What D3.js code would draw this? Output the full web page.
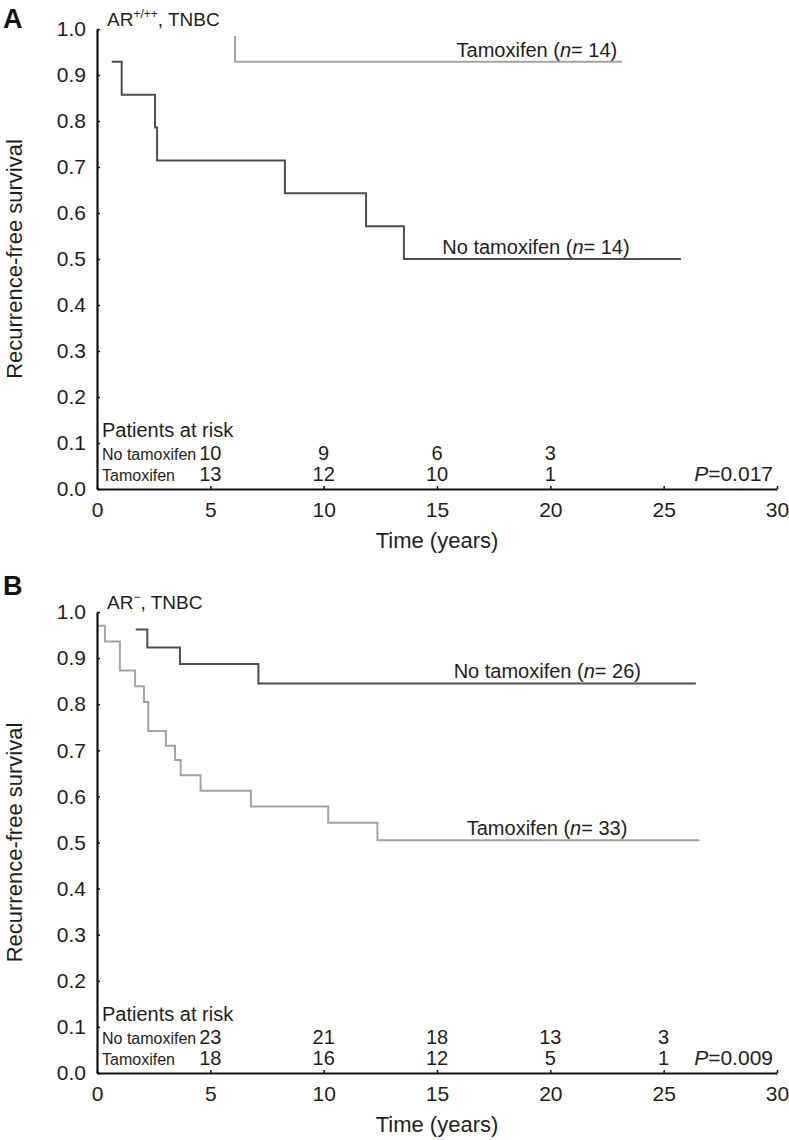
<!DOCTYPE html>
<html>
<head>
<meta charset="utf-8">
<script src="https://cdn.jsdelivr.net/npm/d3@7"></script>
<style>
  html, body { margin: 0; padding: 0; background: #fff; }
  svg { display: block; font-family: "Liberation Sans", Arial, Helvetica, sans-serif; }
</style>
</head>
<body>
<svg id="chart" width="789" height="1140"></svg>
<script>
// ---------------- DATA ----------------
// Panel A: AR+/++ TNBC  (step curves: time of change, survival after change; last point = end of follow-up)
const noTamA_time = [0.65, 1.09, 2.56, 2.65, 8.29, 11.87, 13.54, 25.76];
const noTamA_surv = [0.929, 0.857, 0.786, 0.714, 0.643, 0.571, 0.500, 0.500];
const tamA_time = [6.09, 6.09, 23.16];
const tamA_surv = [0.985, 0.929, 0.929];

// Panel B: AR- TNBC
const noTamB_time = [1.71, 2.22, 3.66, 7.12, 26.42];
const noTamB_surv = [0.962, 0.923, 0.887, 0.845, 0.845];
const tamB_time = [0.06, 0.35, 1.01, 1.68, 2.07, 2.26, 3.04, 3.44, 3.69, 4.57, 6.79, 10.2, 12.37, 26.57];
const tamB_surv = [0.970, 0.936, 0.873, 0.839, 0.805, 0.742, 0.710, 0.679, 0.646, 0.612, 0.578, 0.543, 0.505, 0.505];

// Patients at risk
const riskTimesA = [5, 10, 15, 20];
const riskNoTamA = [10, 9, 6, 3];
const riskTamA = [13, 12, 10, 1];
const riskTimesB = [5, 10, 15, 20, 25];
const riskNoTamB = [23, 21, 18, 13, 3];
const riskTamB = [18, 16, 12, 5, 1];

// Axis ticks
const xTicks = [0, 5, 10, 15, 20, 25, 30];
const yTicks = [0, 0.1, 0.2, 0.3, 0.4, 0.5, 0.6, 0.7, 0.8, 0.9, 1.0];

// Text
const pValueA = "0.017";
const pValueB = "0.009";
const labelsA = [
  { name: "Tamoxifen", n: 14, t: 22.95, s: 0.929 },
  { name: "No tamoxifen", n: 14, t: 23.5, s: 0.5 }
];
const labelsB = [
  { name: "No tamoxifen", n: 26, t: 24.0, s: 0.845 },
  { name: "Tamoxifen", n: 33, t: 23.4, s: 0.505 }
];

// ---------------- DRAW ----------------
const svg = d3.select("#chart");
const DARK = "#4e4e4e", LIGHT = "#a3a3a3", TXT = "#1e1e1e";

function zip(t, s) { return t.map((d, i) => ({ t: d, s: s[i] })); }

function panel(cfg) {
  const x = d3.scaleLinear().domain([0, 30]).range([97, 777]);
  const y = d3.scaleLinear().domain([0, 1]).range([cfg.bottom, cfg.top]);
  const g = svg.append("g");

  // panel letter
  g.append("text").attr("x", 3).attr("y", cfg.letterY)
    .attr("font-size", 27).attr("font-weight", "bold").attr("fill", "#111")
    .text(cfg.letter);

  // subtitle
  const st = g.append("text").attr("x", 107).attr("y", cfg.top - 3)
    .attr("font-size", 19).attr("fill", TXT);
  st.append("tspan").text("AR");
  st.append("tspan").attr("font-size", 12).attr("dy", -8).text(cfg.sup);
  st.append("tspan").attr("dy", 8).text(", TNBC");

  // curves
  const line = d3.line().curve(d3.curveStepAfter).x(d => x(d.t)).y(d => y(d.s));
  cfg.curves.forEach(c => {
    g.append("path").datum(c.data).attr("d", line)
      .attr("fill", "none").attr("stroke", c.color).attr("stroke-width", 2);
  });

  // curve labels
  cfg.labels.forEach(l => {
    const tx = g.append("text").attr("x", x(l.t)).attr("y", y(l.s) - 5)
      .attr("text-anchor", "end").attr("font-size", 20).attr("fill", TXT);
    tx.append("tspan").text(l.name + " (");
    tx.append("tspan").attr("font-style", "italic").text("n");
    tx.append("tspan").text("= " + l.n + ")");
  });

  // axes
  const yAxis = d3.axisLeft(y).tickValues(yTicks).tickFormat(d3.format(".1f"))
    .tickSizeInner(-3).tickSizeOuter(0).tickPadding(11);
  const xAxis = d3.axisBottom(x).tickValues(xTicks).tickFormat(d3.format("d"))
    .tickSizeInner(-3).tickSizeOuter(0).tickPadding(13);

  const ya = g.append("g").attr("transform", "translate(97,0)").call(yAxis);
  const xa = g.append("g").attr("transform", `translate(0,${cfg.bottom})`).call(xAxis);
  [ya, xa].forEach(a => {
    a.select(".domain").attr("stroke", "#111").attr("stroke-width", 2.2);
    a.selectAll(".tick line").attr("stroke", "#111").attr("stroke-width", 1.5);
    a.selectAll(".tick text").attr("font-size", 21).attr("fill", TXT)
      .attr("font-family", "Liberation Sans, Arial, sans-serif");
  });

  // axis titles
  g.append("text").attr("transform", `translate(22,${(cfg.top + cfg.bottom) / 2}) rotate(-90)`)
    .attr("text-anchor", "middle").attr("font-size", 22).attr("fill", TXT)
    .text("Recurrence-free survival");
  g.append("text").attr("x", 437).attr("y", cfg.bottom + 59)
    .attr("text-anchor", "middle").attr("font-size", 22).attr("fill", TXT)
    .text("Time (years)");

  // patients at risk
  const r0 = cfg.bottom - 52, r1 = cfg.bottom - 29, r2 = cfg.bottom - 8;
  g.append("text").attr("x", 102).attr("y", r0).attr("font-size", 20).attr("fill", TXT)
    .text("Patients at risk");
  g.append("text").attr("x", 102).attr("y", r1).attr("font-size", 16).attr("fill", TXT)
    .text("No tamoxifen");
  g.append("text").attr("x", 102).attr("y", r2).attr("font-size", 16).attr("fill", TXT)
    .text("Tamoxifen");
  g.selectAll(".rn").data(cfg.riskTimes.map((t, i) => ({ t, v: cfg.riskNo[i] })))
    .enter().append("text").attr("x", d => x(d.t)).attr("y", r1)
    .attr("text-anchor", "middle").attr("font-size", 20).attr("fill", TXT)
    .text(d => d.v);
  g.selectAll(".rt").data(cfg.riskTimes.map((t, i) => ({ t, v: cfg.riskTam[i] })))
    .enter().append("text").attr("x", d => x(d.t)).attr("y", r2)
    .attr("text-anchor", "middle").attr("font-size", 20).attr("fill", TXT)
    .text(d => d.v);

  // P value
  const pt = g.append("text").attr("x", 773).attr("y", r2).attr("text-anchor", "end")
    .attr("font-size", 21).attr("fill", TXT);
  pt.append("tspan").attr("font-style", "italic").text("P");
  pt.append("tspan").text("=" + cfg.p);
}

panel({
  letter: "A", letterY: 28, top: 29, bottom: 489, sup: "+/++",
  curves: [
    { data: zip(tamA_time, tamA_surv), color: LIGHT },
    { data: zip(noTamA_time, noTamA_surv), color: DARK }
  ],
  labels: labelsA,
  riskTimes: riskTimesA, riskNo: riskNoTamA, riskTam: riskTamA, p: pValueA
});

panel({
  letter: "B", letterY: 595, top: 612, bottom: 1073, sup: "\u2212",
  curves: [
    { data: zip(tamB_time, tamB_surv), color: LIGHT },
    { data: zip(noTamB_time, noTamB_surv), color: DARK }
  ],
  labels: labelsB,
  riskTimes: riskTimesB, riskNo: riskNoTamB, riskTam: riskTamB, p: pValueB
});
</script>
</body>
</html>
